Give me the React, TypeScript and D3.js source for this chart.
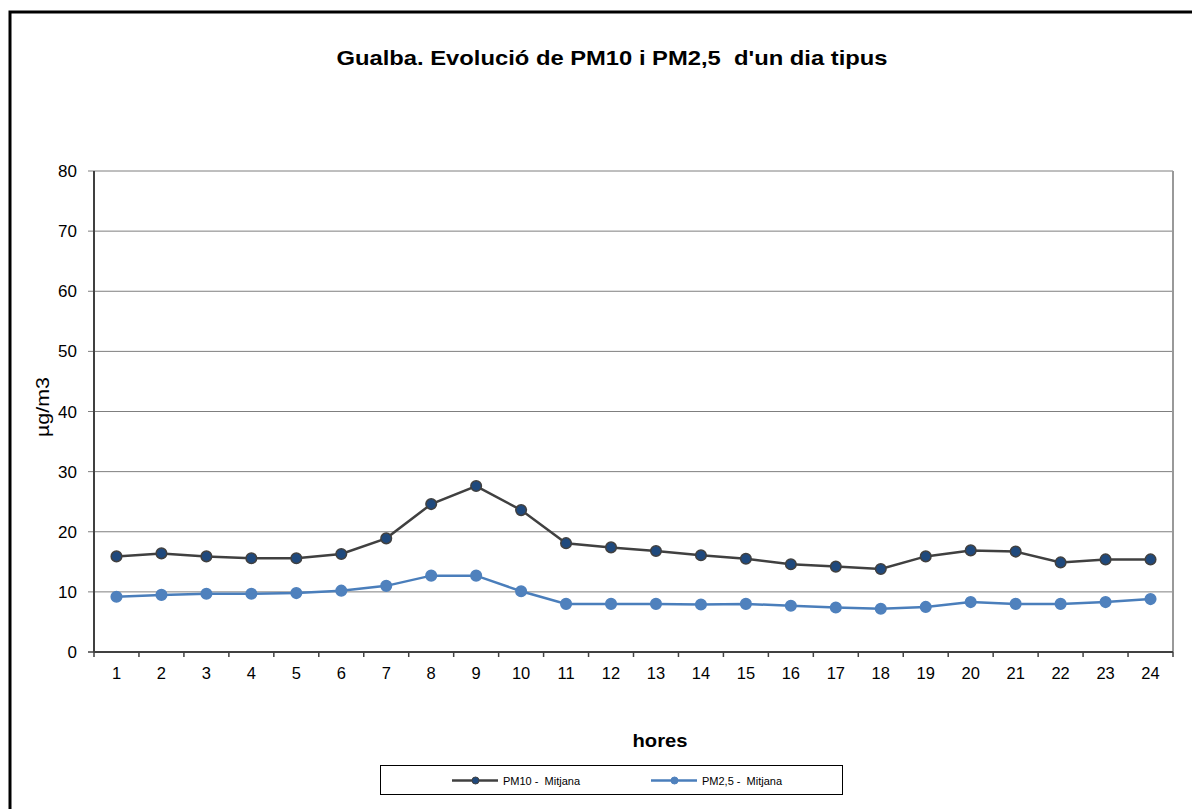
import React from "react";
import * as d3 from "d3";

const hours = ["1","2","3","4","5","6","7","8","9","10","11","12","13","14","15","16","17","18","19","20","21","22","23","24"];
const pm10 = [15.9,16.4,15.9,15.6,15.6,16.3,18.9,24.6,27.6,23.6,18.1,17.4,16.8,16.1,15.5,14.6,14.2,13.8,15.9,16.9,16.7,14.9,15.4,15.4];
const pm25 = [9.2,9.5,9.7,9.7,9.8,10.2,11.0,12.7,12.7,10.1,8.0,8.0,8.0,7.9,8.0,7.7,7.4,7.2,7.5,8.3,8.0,8.0,8.3,8.8];
const yTicks = [0,10,20,30,40,50,60,70,80];
const seriesNames = ["PM10 -  Mitjana", "PM2,5 -  Mitjana"];

const W = 1192, H = 809;
const left = 94, right = 1173, top = 171, bottom = 652;
const font = "'Liberation Sans', Arial, sans-serif";

export default function App() {
  const x = d3.scaleBand<string>().domain(hours).range([left, right]);
  const y = d3.scaleLinear().domain([0, 80]).range([bottom, top]);
  const cx = (h: string) => (x(h) as number) + x.bandwidth() / 2;
  const line = d3.line<number>().x((_, i) => cx(hours[i])).y(d => y(d));

  const series = [
    { name: seriesNames[0], data: pm10, stroke: "#404040", fill: "#1F497D", mstroke: "#404040" },
    { name: seriesNames[1], data: pm25, stroke: "#4A7EBB", fill: "#4F81BD", mstroke: "#4F81BD" },
  ];

  const boundaries = [...hours.map(h => x(h) as number), right];

  return (
    <svg width={W} height={H} style={{ position: "absolute", left: 0, top: 0, background: "#fff" }} fontFamily={font}>
      <rect x={0} y={0} width={W} height={H} fill="#fff" />
      <rect x={10} y={12} width={1220} height={840} fill="none" stroke="#000" strokeWidth={3} />
      <text x={612} y={65} textAnchor="middle" fontSize={21} fontWeight="bold" fill="#000"
        textLength={551} lengthAdjust="spacingAndGlyphs" style={{ whiteSpace: "pre" }}>
        Gualba. Evolució de PM10 i PM2,5  d'un dia tipus
      </text>
      {/* gridlines */}
      {yTicks.filter(t => t > 0).map(t => (
        <line key={t} x1={left - 6} x2={right} y1={y(t)} y2={y(t)} stroke="#7f7f7f" strokeWidth={1} />
      ))}
      <line x1={right} x2={right} y1={top} y2={bottom} stroke="#999" strokeWidth={2} />
      {/* y axis */}
      <line x1={left} x2={left} y1={top} y2={bottom} stroke="#404040" strokeWidth={2} />
      <line x1={left - 6} x2={left} y1={bottom} y2={bottom} stroke="#404040" strokeWidth={1.5} />
      {yTicks.map(t => (
        <text key={t} x={77} y={y(t) + 6} textAnchor="end" fontSize={17} fill="#000">{t}</text>
      ))}
      {/* x axis */}
      <line x1={left} x2={right} y1={bottom} y2={bottom} stroke="#404040" strokeWidth={2} />
      {boundaries.map((b, i) => (
        <line key={i} x1={b} x2={b} y1={bottom} y2={bottom + 5} stroke="#404040" strokeWidth={1.5} />
      ))}
      {hours.map(h => (
        <text key={h} x={cx(h)} y={679} textAnchor="middle" fontSize={16.5} fill="#000">{h}</text>
      ))}
      <text transform={`translate(49,407) rotate(-90)`} textAnchor="middle" fontSize={18} fill="#000"
        textLength={60} lengthAdjust="spacingAndGlyphs">µg/m3</text>
      <text x={660} y={747} textAnchor="middle" fontSize={19} fontWeight="bold" fill="#000"
        textLength={55} lengthAdjust="spacingAndGlyphs">hores</text>
      {/* series */}
      {series.map(s => (
        <g key={s.name}>
          <path d={line(s.data) || ""} fill="none" stroke={s.stroke} strokeWidth={2.5} />
          {s.data.map((v, i) => (
            <circle key={i} cx={cx(hours[i])} cy={y(v)} r={5.3} fill={s.fill} stroke={s.mstroke} strokeWidth={1.5} />
          ))}
        </g>
      ))}
      {/* legend */}
      <rect x={380.5} y={765.5} width={462} height={29} fill="#fff" stroke="#000" strokeWidth={1} />
      {series.map((s, i) => {
        const lx = i === 0 ? 452 : 651;
        return (
          <g key={s.name}>
            <line x1={lx} x2={lx + 46} y1={780.5} y2={780.5} stroke={s.stroke} strokeWidth={2.5} />
            <circle cx={lx + 23.5} cy={780.5} r={3.5} fill={s.fill} stroke={s.mstroke} strokeWidth={1} />
            <text x={lx + 51} y={784.5} fontSize={11} fill="#000" style={{ whiteSpace: "pre" }}>{s.name}</text>
          </g>
        );
      })}
    </svg>
  );
}
